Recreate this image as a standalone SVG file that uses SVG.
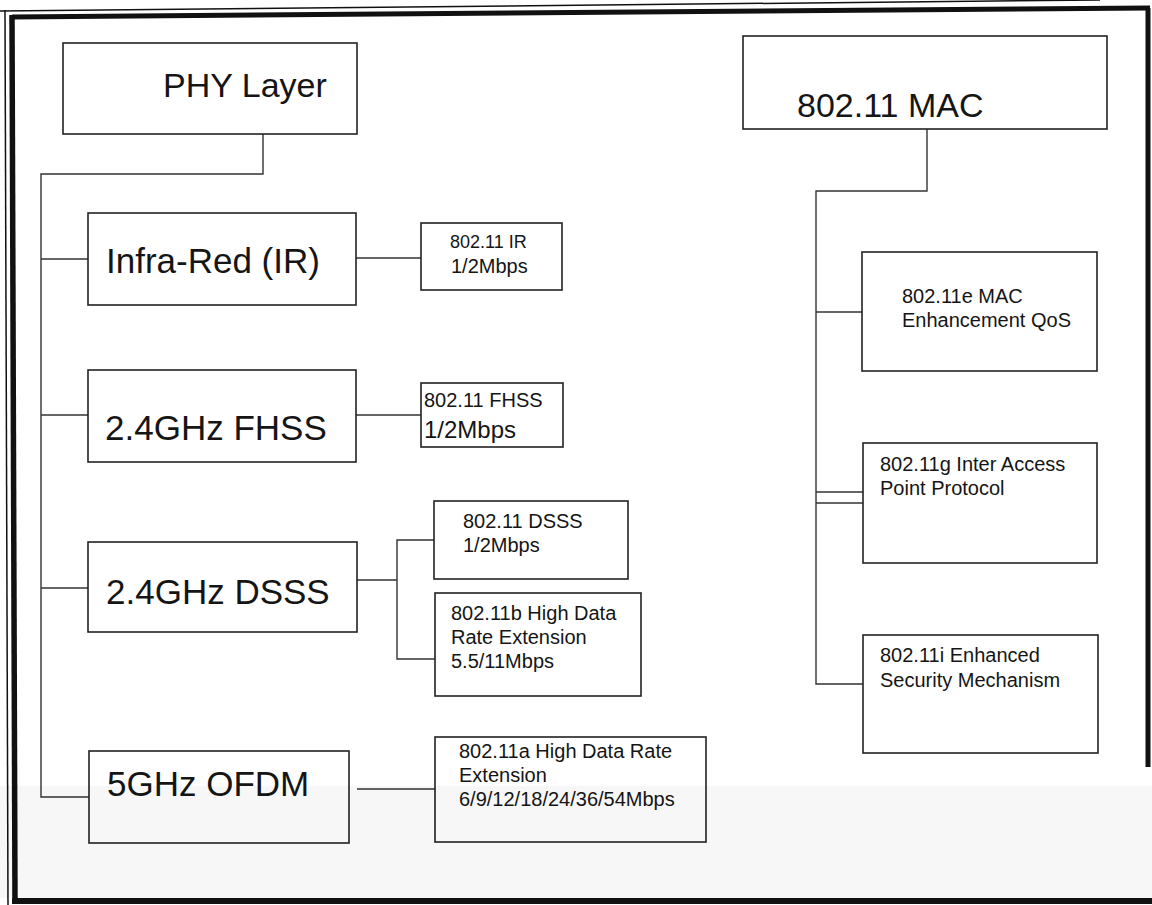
<svg xmlns="http://www.w3.org/2000/svg" width="1152" height="905" viewBox="0 0 1152 905">
<style>
.box{fill:#fff;stroke:#222;stroke-width:1.6}
.con{fill:none;stroke:#333;stroke-width:1.4}
.t{font-family:"Liberation Sans",Arial,sans-serif;fill:#151515}
.big{font-size:35px}
.sm{font-size:20px}
</style>
<rect x="0" y="0" width="1152" height="905" fill="#fff"/>
<g id="frame" fill="none" stroke="#111">
<path d="M0 11 L1100 0" stroke-width="1.5"/>
<path d="M5 10 L8 905" stroke-width="1.5"/>
<path d="M12 17 L1150 8" stroke-width="5"/>
<path d="M12 15 L15 903" stroke-width="5.5"/>
<path d="M1148 8 L1148 767" stroke-width="5"/>
<path d="M12 901 L1152 901" stroke-width="6"/>
</g>
<g id="connectors" class="con">
<polyline points="263,134 263,174 41,174 41,797 89,797"/>
<line x1="41" y1="259" x2="88" y2="259"/>
<line x1="41" y1="415" x2="88" y2="415"/>
<line x1="41" y1="588" x2="88" y2="588"/>
<line x1="356" y1="258" x2="421" y2="258"/>
<line x1="356" y1="415" x2="421" y2="415"/>
<line x1="357" y1="580" x2="397" y2="580"/>
<polyline points="434,540 397,540 397,659 435,659"/>
<line x1="357" y1="789" x2="435" y2="789"/>
<polyline points="927,129 927,191 816,191 816,684 863,684"/>
<line x1="816" y1="312" x2="862" y2="312"/>
<line x1="816" y1="492" x2="863" y2="492"/>
<line x1="816" y1="503" x2="863" y2="503"/>
</g>
<g id="phy"><rect class="box" x="63" y="43" width="294" height="91"/><text class="t" x="163" y="97" font-size="34">PHY Layer</text></g>
<g id="mac"><rect class="box" x="743" y="36" width="364" height="93"/><text class="t" x="797" y="117" font-size="34">802.11 MAC</text></g>
<g id="ir"><rect class="box" x="88" y="213" width="268" height="92"/><text class="t big" x="106" y="273">Infra-Red (IR)</text></g>
<g id="ir-std"><rect class="box" x="421" y="223" width="141" height="67"/><text class="t" x="450" y="248" font-size="18">802.11 IR</text><text class="t sm" x="451" y="273">1/2Mbps</text></g>
<g id="fhss"><rect class="box" x="88" y="370" width="268" height="92"/><text class="t big" x="105" y="440">2.4GHz FHSS</text></g>
<g id="fhss-std"><rect class="box" x="421" y="383" width="142" height="64"/><text class="t sm" x="424" y="407">802.11 FHSS</text><text class="t" x="424" y="438" font-size="24">1/2Mbps</text></g>
<g id="dsss"><rect class="box" x="88" y="542" width="269" height="90"/><text class="t big" x="106" y="604">2.4GHz DSSS</text></g>
<g id="dsss-std"><rect class="box" x="434" y="501" width="194" height="78"/><text class="t sm" x="463" y="528">802.11 DSSS</text><text class="t sm" x="463" y="552">1/2Mbps</text></g>
<g id="b-std"><rect class="box" x="435" y="593" width="206" height="103"/><text class="t sm" x="451" y="620">802.11b High Data</text><text class="t sm" x="451" y="644">Rate Extension</text><text class="t sm" x="451" y="668">5.5/11Mbps</text></g>
<g id="ofdm"><rect class="box" x="89" y="751" width="260" height="92"/><text class="t big" x="107" y="796">5GHz OFDM</text></g>
<g id="a-std"><rect class="box" x="435" y="737" width="271" height="105"/><text class="t sm" x="459" y="758">802.11a High Data Rate</text><text class="t sm" x="459" y="782">Extension</text><text class="t sm" x="459" y="806">6/9/12/18/24/36/54Mbps</text></g>
<g id="e-std"><rect class="box" x="862" y="252" width="235" height="119"/><text class="t sm" x="902" y="303">802.11e MAC</text><text class="t sm" x="902" y="327">Enhancement QoS</text></g>
<g id="g-std"><rect class="box" x="863" y="443" width="234" height="120"/><text class="t sm" x="880" y="471">802.11g Inter Access</text><text class="t sm" x="880" y="495">Point Protocol</text></g>
<g id="i-std"><rect class="box" x="863" y="635" width="235" height="118"/><text class="t sm" x="880" y="662">802.11i Enhanced</text><text class="t sm" x="880" y="687">Security Mechanism</text></g>
<rect x="0" y="786" width="1152" height="112" fill="#000" fill-opacity="0.03"/>
</svg>
